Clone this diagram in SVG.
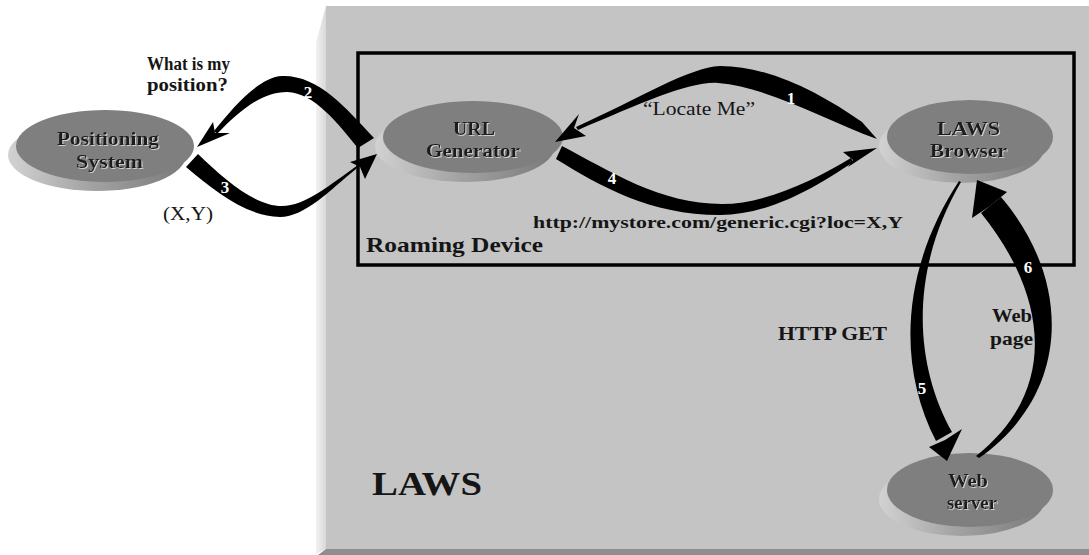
<svg xmlns="http://www.w3.org/2000/svg" width="1089" height="555" viewBox="0 0 1089 555">
  <defs>
    <style>
      .lbl { font-family: "Liberation Serif", "Times New Roman", serif; font-weight: bold; fill: #151515; }
      .reg { font-family: "Liberation Serif", "Times New Roman", serif; fill: #151515; }
      .node-txt { font-family: "Liberation Serif", "Times New Roman", serif; font-weight: bold; font-size: 18px; fill: #1a1a1a; filter: url(#emboss); }
      .num { font-family: "Liberation Serif", "Times New Roman", serif; font-weight: bold; font-size: 17px; fill: #ffffff; text-anchor: middle; }
      .face { fill: #7f7f7f; }
      .side { fill: url(#sideGrad); }
      .arrow { fill: #000000; }
    </style>
    <linearGradient id="sideGrad" x1="0" y1="0" x2="1" y2="0">
      <stop offset="0" stop-color="#d2d2d2"/>
      <stop offset="0.45" stop-color="#a4a4a4"/>
      <stop offset="1" stop-color="#7a7a7a"/>
    </linearGradient>
    <linearGradient id="bevelGrad" x1="0" y1="0" x2="1" y2="0">
      <stop offset="0" stop-color="#f2f2f2"/>
      <stop offset="1" stop-color="#d8d8d8"/>
    </linearGradient>
    <filter id="emboss" x="-10%" y="-20%" width="120%" height="140%">
      <feDropShadow dx="1" dy="1" stdDeviation="0.4" flood-color="#d8d8d8" flood-opacity="0.9"/>
    </filter>
  </defs>

  <!-- page -->
  <rect x="0" y="0" width="1089" height="555" fill="#ffffff"/>

  <!-- LAWS panel with bevelled left and bottom edges -->
  <g id="laws-panel">
    <rect x="326" y="6" width="763" height="543" fill="#c4c4c4"/>
    <polygon points="326,6 316,42 316,554 326,549" fill="url(#bevelGrad)"/>
    <polygon points="326,549 1089,549 1089,555 318,555" fill="#8e8e8e"/>
    <text class="lbl" x="372" y="495" font-size="33" textLength="110" lengthAdjust="spacingAndGlyphs">LAWS</text>
  </g>

  <!-- Roaming Device frame -->
  <g id="roaming-device">
    <rect x="358" y="53" width="716" height="212" fill="none" stroke="#000" stroke-width="3.5"/>
    <text class="lbl" x="366" y="252" font-size="21" textLength="177" lengthAdjust="spacingAndGlyphs">Roaming Device</text>
  </g>

  <!-- nodes: raised discs -->
  <g id="positioning-system">
    <ellipse class="side" cx="97" cy="155" rx="89" ry="36"/>
    <ellipse class="face" cx="105" cy="146" rx="89" ry="36"/>
    <text class="node-txt" x="57" y="145" textLength="102" lengthAdjust="spacingAndGlyphs">Positioning</text>
    <text class="node-txt" x="76" y="168" textLength="67" lengthAdjust="spacingAndGlyphs">System</text>
  </g>

  <g id="url-generator">
    <ellipse class="side" cx="465" cy="146" rx="90" ry="36"/>
    <ellipse class="face" cx="473" cy="137" rx="90" ry="36"/>
    <text class="node-txt" x="453" y="135" textLength="42" lengthAdjust="spacingAndGlyphs">URL</text>
    <text class="node-txt" x="426" y="157" textLength="94" lengthAdjust="spacingAndGlyphs">Generator</text>
  </g>

  <g id="laws-browser">
    <ellipse class="side" cx="962" cy="146" rx="83" ry="37"/>
    <ellipse class="face" cx="970" cy="137" rx="83" ry="37"/>
    <text class="node-txt" x="937" y="135" textLength="63" lengthAdjust="spacingAndGlyphs">LAWS</text>
    <text class="node-txt" x="930" y="157" textLength="77" lengthAdjust="spacingAndGlyphs">Browser</text>
  </g>

  <g id="web-server">
    <ellipse class="side" cx="962" cy="499" rx="83" ry="37"/>
    <ellipse class="face" cx="970" cy="490" rx="83" ry="37"/>
    <text class="node-txt" x="948" y="487" textLength="40" lengthAdjust="spacingAndGlyphs">Web</text>
    <text class="node-txt" x="947" y="509" textLength="50" lengthAdjust="spacingAndGlyphs">server</text>
  </g>

  <!-- connectors: tapered curved arrows -->
  <g id="connectors">
    <!-- 1: browser -> URL generator -->
    <path class="arrow" d="M862,122 C820,93 770,66 720,66 C690,67 640,98 576,127 L578,130 C642,103 690,81 718,83 C768,87 825,120 877,139 Z"/>
    <path class="arrow" d="M555,142 L579,114 L574,128 L586,136 Z"/>
    <!-- 2: URL generator -> positioning system -->
    <path class="arrow" d="M374,138 C345,107 318,75 282,76 C260,77 235,105 214,131 L217,134 C240,110 262,92 287,92 C315,93 338,124 358,148 Z"/>
    <path class="arrow" d="M197,147 L213,122 L215,133 L230,133 Z"/>
    <!-- 3: positioning system -> URL generator -->
    <path class="arrow" d="M186,167 C215,191 245,216 280,217 C305,217 330,190 356,169 L358,165 C330,185 305,206 282,206 C255,206 225,180 198,154 Z"/>
    <path class="arrow" d="M377,154 L350,162 L360,167 L365,179 Z"/>
    <!-- 4: URL generator -> browser -->
    <path class="arrow" d="M556,159 C600,186 650,215 720,215 C770,215 820,185 853,162 L851,158 C815,180 765,204 722,204 C660,204 610,171 562,146 Z"/>
    <path class="arrow" d="M877,148 L843,152 L853,160 L848,167 Z"/>
    <!-- 5: browser -> web server -->
    <path class="arrow" d="M961,182 C909,271 914,364 952,432 L936,441 C897,366 901,269 959,181 Z"/>
    <path class="arrow" d="M947,461 L929,447 L945,440 L962,429 Z"/>
    <!-- 6: web server -> browser -->
    <path class="arrow" d="M979,458 C1072,393 1072,280 1001,197 L981,213 C1045,292 1062,388 976,456 Z"/>
    <path class="arrow" d="M977,180 L1007,192 L990,206 L972,218 Z"/>

    <text class="num" x="791" y="104">1</text>
    <text class="num" x="308" y="98">2</text>
    <text class="num" x="225" y="193">3</text>
    <text class="num" x="612" y="184">4</text>
    <text class="num" x="922" y="394">5</text>
    <text class="num" x="1028" y="273">6</text>
  </g>

  <!-- message labels -->
  <g id="labels">
    <text class="lbl" x="147" y="70" font-size="18" textLength="83" lengthAdjust="spacingAndGlyphs">What is my</text>
    <text class="lbl" x="147" y="91" font-size="18" textLength="81" lengthAdjust="spacingAndGlyphs">position?</text>
    <text class="reg" x="163" y="220" font-size="18" textLength="50" lengthAdjust="spacingAndGlyphs">(X,Y)</text>
    <text class="reg" x="643" y="115" font-size="19" textLength="112" lengthAdjust="spacingAndGlyphs">“Locate Me”</text>
    <text class="lbl" x="533" y="228" font-size="17" textLength="370" lengthAdjust="spacingAndGlyphs">http://mystore.com/generic.cgi?loc=X,Y</text>
    <text class="lbl" x="778" y="340" font-size="19" textLength="109" lengthAdjust="spacingAndGlyphs">HTTP GET</text>
    <text class="lbl" x="992" y="322" font-size="19" textLength="40" lengthAdjust="spacingAndGlyphs">Web</text>
    <text class="lbl" x="990" y="345" font-size="19" textLength="43" lengthAdjust="spacingAndGlyphs">page</text>
  </g>
</svg>
